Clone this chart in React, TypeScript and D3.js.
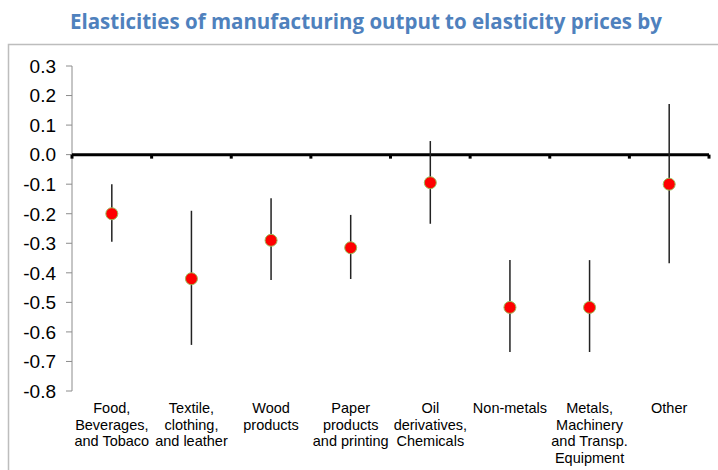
import React from "react";
import * as d3 from "d3";

const categories: string[][] = [
  ["Food,", "Beverages,", "and Tobaco"],
  ["Textile,", "clothing,", "and leather"],
  ["Wood", "products"],
  ["Paper", "products", "and printing"],
  ["Oil", "derivatives,", "Chemicals"],
  ["Non-metals"],
  ["Metals,", "Machinery", "and Transp.", "Equipment"],
  ["Other"],
];
const estimates = [-0.2, -0.42, -0.29, -0.315, -0.095, -0.517, -0.517, -0.1];
const upper = [-0.1, -0.19, -0.148, -0.204, 0.046, -0.357, -0.357, 0.171];
const lower = [-0.295, -0.644, -0.424, -0.421, -0.234, -0.668, -0.668, -0.368];
const yTicks = [0.3, 0.2, 0.1, 0.0, -0.1, -0.2, -0.3, -0.4, -0.5, -0.6, -0.7, -0.8];

const W = 718;
const H = 470;
const left = 72;
const right = 709;
const top = 66;
const bottom = 391;

const fmt = (t: number) => t.toFixed(1).replace("−", "-");

export default function App() {
  const y = d3.scaleLinear().domain([0.3, -0.8]).range([top, bottom]);
  const x = d3
    .scaleBand<number>()
    .domain(d3.range(categories.length))
    .range([left, right])
    .padding(0);
  const zeroY = y(0);
  const boundaries = d3.range(categories.length + 1).map((i) => left + i * x.step());

  return (
    <div style={{ position: "fixed", left: 0, top: 0 }}>
      <svg width={W} height={H} style={{ display: "block", background: "#fff" }}>
        {/* outer frame */}
        <path d={`M8.5,${H} V44.5 H${W}`} fill="none" stroke="#bdbdbd" strokeWidth={1.5} />
        <text
          x={366}
          y={29}
          textAnchor="middle"
          fontFamily="'Open Sans', Lato, sans-serif"
          fontWeight="bold"
          fontSize={21}
          textLength={592}
          lengthAdjust="spacingAndGlyphs"
          fill="#4f81bd"
        >
          Elasticities of manufacturing output to elasticity prices by
        </text>

        {/* y axis */}
        <line x1={left} x2={left} y1={top} y2={bottom} stroke="#8c8c8c" strokeWidth={1} />
        {yTicks.map((t) => (
          <g key={t}>
            <line x1={left - 6} x2={left} y1={y(t)} y2={y(t)} stroke="#8c8c8c" strokeWidth={1} />
            <text
              x={56}
              y={y(t)}
              dy="0.36em"
              textAnchor="end"
              fontFamily="'Liberation Sans', Arial, sans-serif"
              fontSize={19}
              fill="#000"
            >
              {fmt(t)}
            </text>
          </g>
        ))}

        {/* zero line with category ticks */}
        <line x1={left} x2={right} y1={zeroY} y2={zeroY} stroke="#000" strokeWidth={3} />
        {boundaries.map((bx, i) => (
          <rect key={i} x={bx - 1.5} y={zeroY} width={3} height={4} fill="#000" />
        ))}

        {/* error bars and point estimates */}
        {estimates.map((v, i) => {
          const cx = (x(i) as number) + x.bandwidth() / 2;
          return (
            <g key={i}>
              <line
                x1={cx}
                x2={cx}
                y1={y(upper[i])}
                y2={y(lower[i])}
                stroke="#222"
                strokeWidth={1.5}
              />
              <circle cx={cx} cy={y(v)} r={6} fill="#ff0000" stroke="#9bbb59" strokeWidth={1} />
            </g>
          );
        })}

        {/* category labels */}
        {categories.map((lines, i) => {
          const cx = (x(i) as number) + x.bandwidth() / 2;
          return (
            <text
              key={i}
              x={cx}
              textAnchor="middle"
              fontFamily="'Liberation Sans', Arial, sans-serif"
              fontSize={14.5}
              fill="#000"
            >
              {lines.map((l, j) => (
                <tspan key={j} x={cx} y={413 + j * 16.5}>
                  {l}
                </tspan>
              ))}
            </text>
          );
        })}
      </svg>
    </div>
  );
}
